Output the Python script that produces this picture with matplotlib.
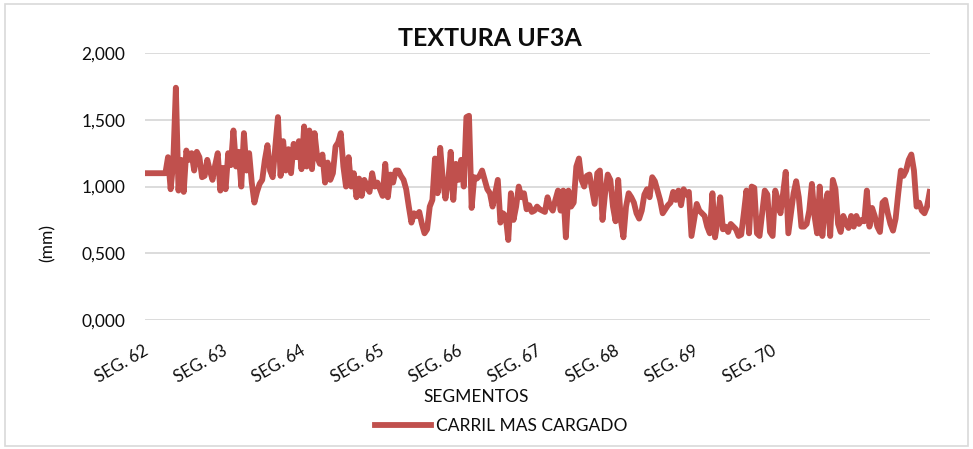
import matplotlib.pyplot as plt
from matplotlib.ticker import FuncFormatter, FixedLocator
from matplotlib.patches import Rectangle

# textura medida en el carril mas cargado, tramo UF3A (mm)
textura = [
    # SEG. 62
    1.10, 1.10, 1.10, 1.10, 1.10, 1.10, 1.10, 1.10, 1.22, 0.98,
    1.18, 1.74, 0.97, 1.20, 0.96, 1.27, 1.20, 1.25, 1.12, 1.26,
    1.22, 1.07, 1.08, 1.20, 1.12, 1.05, 1.16, 1.25, 0.97, 1.14,
    # SEG. 63
    0.98, 1.25, 1.16, 1.42, 1.15, 1.26, 1.00, 1.40, 1.12, 1.25,
    1.03, 0.88, 0.96, 1.02, 1.05, 1.20, 1.31, 1.12, 1.07, 1.30,
    1.52, 1.08, 1.34, 1.12, 1.28, 1.10, 1.32, 1.22, 1.34, 1.13,
    # SEG. 64
    1.45, 1.15, 1.42, 1.13, 1.40, 1.22, 1.17, 1.24, 1.03, 1.18,
    1.05, 1.10, 1.30, 1.33, 1.40, 1.15, 1.00, 1.22, 1.00, 1.10,
    0.92, 1.06, 0.93, 1.05, 1.00, 0.96, 1.10, 1.00, 1.03, 0.98,
    # SEG. 65
    0.93, 1.17, 0.92, 1.09, 1.03, 1.12, 1.12, 1.08, 1.05, 0.98,
    0.85, 0.73, 0.80, 0.78, 0.81, 0.72, 0.65, 0.68, 0.85, 0.90,
    1.21, 0.95, 1.29, 1.05, 0.91, 1.03, 1.26, 0.90, 1.17, 1.05,
    # SEG. 66
    1.20, 1.00, 1.52, 1.53, 0.84, 1.07, 1.06, 1.08, 1.12, 1.05,
    0.98, 0.95, 0.85, 0.95, 1.05, 0.73, 0.80, 0.78, 0.60, 0.95,
    0.75, 0.85, 1.00, 0.92, 0.95, 0.83, 0.86, 0.81, 0.82, 0.85,
    # SEG. 67
    0.83, 0.82, 0.81, 0.92, 0.85, 0.82, 0.90, 0.97, 0.82, 0.97,
    0.62, 0.97, 0.85, 0.88, 1.15, 1.21, 1.05, 1.00, 1.08, 1.09,
    0.98, 0.87, 1.10, 1.12, 0.75, 0.95, 1.09, 1.05, 0.85, 0.74,
    # SEG. 68
    1.05, 0.75, 0.62, 0.85, 0.95, 0.92, 0.88, 0.80, 0.76, 0.82,
    0.94, 0.98, 0.92, 1.07, 1.04, 0.97, 0.90, 0.80, 0.83, 0.86,
    0.88, 0.96, 0.90, 0.97, 0.86, 0.98, 0.94, 0.96, 0.63, 0.75,
    # SEG. 69
    0.87, 0.82, 0.80, 0.78, 0.70, 0.65, 0.95, 0.62, 0.75, 0.92,
    0.68, 0.70, 0.66, 0.72, 0.70, 0.68, 0.63, 0.64, 0.80, 0.97,
    0.65, 1.00, 0.99, 0.65, 0.63, 0.80, 0.97, 0.94, 0.66, 0.63,
    # SEG. 70
    0.97, 0.90, 0.80, 0.95, 1.11, 0.65, 0.80, 0.95, 1.04, 0.92,
    0.70, 0.70, 0.72, 0.82, 1.02, 0.78, 0.65, 1.00, 0.63, 0.85,
    0.95, 0.63, 1.05, 0.98, 0.72, 0.66, 0.78, 0.73, 0.69, 0.78,
    # resto del tramo
    0.70, 0.78, 0.72, 0.75, 0.74, 0.97, 0.70, 0.84, 0.78, 0.70,
    0.66, 0.88, 0.90, 0.80, 0.72, 0.67, 0.76, 0.95, 1.12, 1.08,
    1.12, 1.20, 1.24, 1.12, 0.85, 0.88, 0.82, 0.80, 0.85, 0.96,
]
segmentos = ["SEG. 62", "SEG. 63", "SEG. 64", "SEG. 65", "SEG. 66",
             "SEG. 67", "SEG. 68", "SEG. 69", "SEG. 70"]
lecturas_por_segmento = 30
y_ticks = [0.0, 0.5, 1.0, 1.5, 2.0]

plt.rcParams['font.family'] = ['Lato', 'DejaVu Sans']
color_linea = '#C0504D'
color_texto = '#0d0d0d'

fig = plt.figure(figsize=(9.73, 4.49), dpi=100)
fig.patches.append(Rectangle((0.005, 0.006), 0.99, 0.985, transform=fig.transFigure,
                             fill=False, edgecolor='#D9D9D9', linewidth=1.2))
ax = fig.add_axes([0.149, 0.287, 0.807, 0.595])

x = list(range(len(textura)))
ax.plot(x, textura, color=color_linea, linewidth=4.2, solid_joinstyle='round',
        label='CARRIL MAS CARGADO')

ax.set_xlim(-0.8, len(textura) - 0.8)
ax.set_ylim(0, 2.0)
ax.yaxis.set_major_locator(FixedLocator(y_ticks))
ax.yaxis.set_major_formatter(FuncFormatter(lambda v, p: f"{v:.3f}".replace('.', ',')))
ax.grid(axis='y', color='#D9D9D9', linewidth=1.3)
ax.set_axisbelow(True)
for s in ax.spines.values():
    s.set_visible(False)

ax.set_xticks([i * lecturas_por_segmento for i in range(len(segmentos))])
ax.set_xticklabels(segmentos, rotation=30, ha='right', va='center',
                   rotation_mode='anchor', fontsize=12, color=color_texto)
ax.tick_params(axis='x', length=0, pad=21)
ax.tick_params(axis='y', length=0, pad=14, labelsize=12.5, labelcolor=color_texto)

fig.text(0.503, 0.915, 'TEXTURA UF3A', ha='center', va='center',
         fontsize=18, fontweight='bold', color=color_texto)
fig.text(0.489, 0.115, 'SEGMENTOS', ha='center', va='center',
         fontsize=12.5, color=color_texto)
fig.text(0.049, 0.459, '(mm)', ha='center', va='center', rotation=90,
         fontsize=12.5, color=color_texto)

fig.legend(loc='center', bbox_to_anchor=(0.515, 0.052), frameon=False,
           fontsize=12.5, handlelength=3.2, handletextpad=0.3,
           labelcolor=color_texto)

fig.savefig('out.png', dpi=100)
